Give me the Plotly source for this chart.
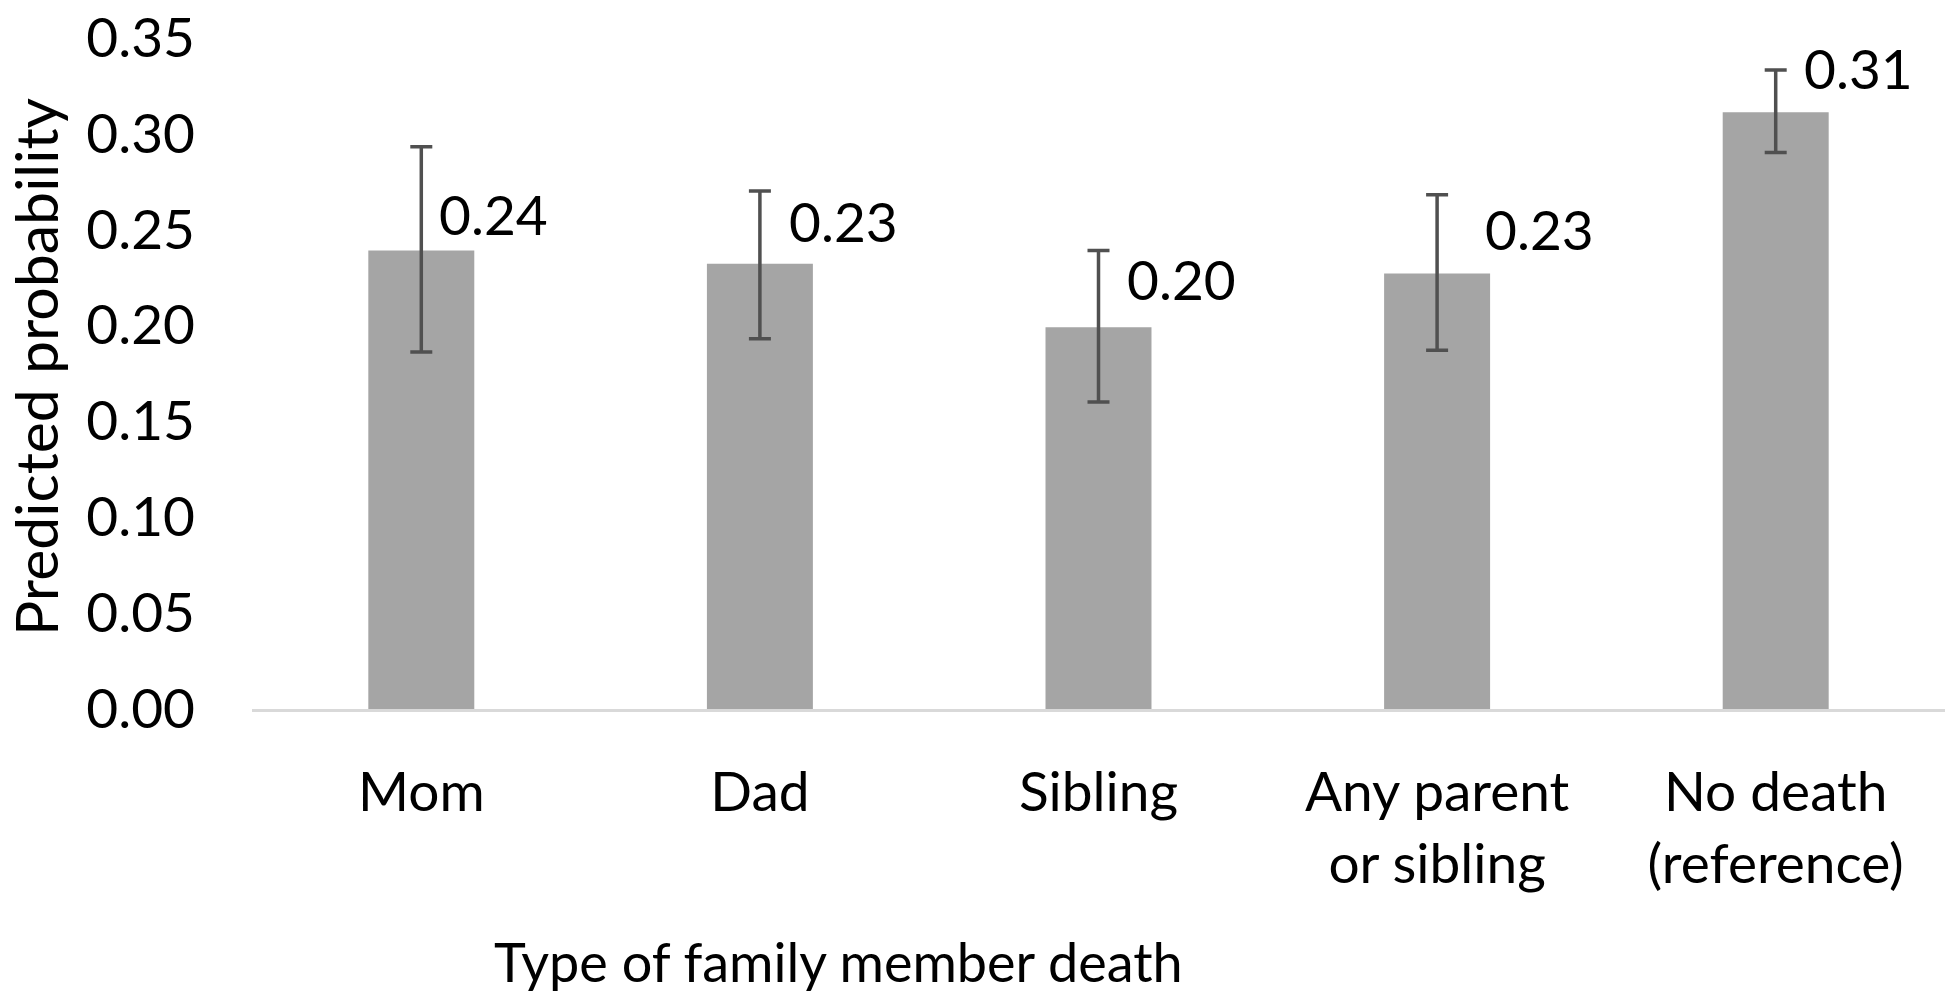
import plotly.graph_objects as go

categories = ["Mom", "Dad", "Sibling", "Any parent<br>or sibling", "No death<br>(reference)"]
probability = [0.239, 0.232, 0.199, 0.227, 0.311]
ci_upper = [0.293, 0.270, 0.239, 0.268, 0.333]
ci_lower = [0.186, 0.193, 0.160, 0.187, 0.290]
value_labels = ["0.24", "0.23", "0.20", "0.23", "0.31"]
y_ticks = [0.0, 0.05, 0.10, 0.15, 0.20, 0.25, 0.30, 0.35]

# label offsets (px) - style only
label_dx = [16, 27, 26, 46, 26]
label_dy = [36, 43, 48, 44, 44]

FONT = "Lato"
W, H = 1950, 999
M_L, M_R, M_T, M_B = 252, 5, 37, 290

err_plus = [u - p for u, p in zip(ci_upper, probability)]
err_minus = [p - l for p, l in zip(probability, ci_lower)]

fig = go.Figure()
fig.add_trace(go.Bar(
    x=categories, y=probability,
    marker=dict(color="#a5a5a5", line=dict(width=0)),
    width=0.313,
    error_y=dict(type="data", symmetric=False, array=err_plus, arrayminus=err_minus,
                 color="#505050", thickness=3.5, width=11),
    hoverinfo="skip",
))

for c, p, t, dx, dy in zip(categories, probability, value_labels, label_dx, label_dy):
    fig.add_annotation(x=c, y=p, text=t, showarrow=False, xanchor="left", yanchor="middle",
                       xshift=dx, yshift=dy, font=dict(family=FONT, size=55, color="black"))

fig.add_annotation(text="Type of family member death", xref="paper", yref="paper",
                   x=(838 - M_L) / (W - M_L - M_R), y=(709 - 961) / (H - M_T - M_B),
                   xanchor="center", yanchor="middle", showarrow=False,
                   font=dict(family=FONT, size=54, color="black"))

fig.add_annotation(text="Predicted probability", xref="paper", yref="paper",
                   x=(35 - M_L) / (W - M_L - M_R), y=(709 - 367) / (H - M_T - M_B), textangle=-90,
                   xanchor="center", yanchor="middle", showarrow=False,
                   font=dict(family=FONT, size=59, color="black"))

fig.update_layout(
    width=W, height=H,
    margin=dict(l=M_L, r=M_R, t=M_T, b=M_B, autoexpand=False),
    plot_bgcolor="white", paper_bgcolor="white",
    showlegend=False,
    font=dict(family=FONT, color="black"),
)
fig.update_xaxes(
    showline=True, linecolor="#d9d9d9", linewidth=3, showgrid=False, zeroline=False,
    ticks="", tickfont=dict(family=FONT, size=55, color="black"),
    ticklabelstandoff=33, automargin=False,
)
fig.update_yaxes(
    range=[0, 0.3502], tickvals=y_ticks, tickformat=".2f",
    showline=False, showgrid=False, zeroline=False, ticks="",
    tickfont=dict(family=FONT, size=55, color="black"),
    ticklabelstandoff=56, automargin=False, ticklabeloverflow="allow",
)

fig.write_html(
    "out.html",
    config={"displayModeBar": False},
    post_script="document.body.style.margin='0';document.body.style.overflow='hidden';",
)
